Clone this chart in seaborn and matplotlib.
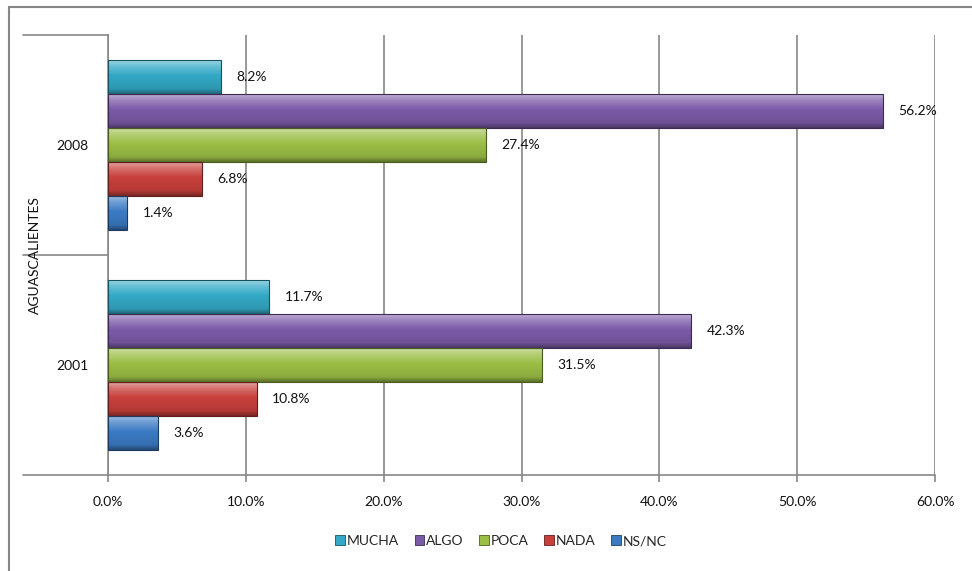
import numpy as np
import pandas as pd
import matplotlib
matplotlib.use("Agg")
import matplotlib.pyplot as plt
import matplotlib.colors as mcolors
from matplotlib.lines import Line2D
from matplotlib.patches import Patch
import seaborn as sns

# ---- data ----
years = ["2008", "2001"]
series = ["MUCHA", "ALGO", "POCA", "NADA", "NS/NC"]
values_2008 = [8.2, 56.2, 27.4, 6.8, 1.4]
values_2001 = [11.7, 42.3, 31.5, 10.8, 3.6]
xticks = [0, 10, 20, 30, 40, 50, 60]
group_label = "AGUASCALIENTES"
colors = ["#33A9C6", "#7B5AA8", "#9BBE45", "#C8403C", "#3B7BC4"]

rows = []
for yr, vals in zip(years, [values_2008, values_2001]):
    for s, v in zip(series, vals):
        rows.append({"year": yr, "serie": s, "value": v})
df = pd.DataFrame(rows)

sns.set_theme(style="white")
plt.rcParams["font.family"] = ["Lato", "DejaVu Sans"]

fig = plt.figure(figsize=(9.72, 5.71), dpi=100)
ax = fig.add_axes([108/972, 1-475/571, (935-108)/972, (475-35)/571])

sns.barplot(data=df, y="year", x="value", hue="serie", order=years,
            hue_order=series, palette=colors, orient="h", width=0.77,
            ax=ax, legend=False, saturation=1, edgecolor="none", linewidth=0)

ax.set_xlim(0, 60)
ax.set_ylim(1.5, -0.5)

# gradient / bevel overlay on bars
for cont, col in zip(ax.containers, colors):
    base = np.array(mcolors.to_rgb(col))
    light = base + (1 - base) * 0.5
    dark = base * 0.6
    cmap = mcolors.LinearSegmentedColormap.from_list(
        "g", [(0, light), (0.18, light*0.5+base*0.5), (0.45, base), (0.85, base*0.9), (1, dark)])
    grad = np.linspace(0, 1, 64).reshape(-1, 1)
    for p in cont.patches:
        x0, y0 = p.get_x(), p.get_y()
        w, h = p.get_width(), p.get_height()
        im = ax.imshow(grad, extent=(x0, x0 + w, y0 + h, y0), origin="upper",
                       cmap=cmap, aspect="auto", zorder=2, interpolation="bilinear")
        im.set_clip_path(p)
        ax.add_patch(plt.Rectangle((x0, y0), w, h, fill=False,
                                   edgecolor=tuple(dark*0.8), linewidth=0.8, zorder=3))
    ax.bar_label(cont, labels=[f"{v:.1f}%" for v in cont.datavalues],
                 padding=11, fontsize=10, color="#111111")

ax.set_xlim(0, 60)
ax.set_ylim(1.5, -0.5)

grid_col = "#878787"
ax.set_xticks(xticks)
ax.set_xticklabels([f"{t:.1f}%" for t in xticks], fontsize=10, color="#111111")
ax.xaxis.grid(True, color=grid_col, linewidth=1.2)
ax.set_axisbelow(True)
ax.tick_params(axis="x", length=5, width=1.2, color=grid_col, pad=10, bottom=True)
ax.tick_params(axis="y", length=0, pad=14, labelsize=10, labelcolor="#111111")
ax.set_xlabel("")
ax.set_ylabel("")
for s in ["top", "right"]:
    ax.spines[s].set_visible(False)
for s in ["left", "bottom"]:
    ax.spines[s].set_color(grid_col)
    ax.spines[s].set_linewidth(1.2)

# multi-level category separators
ext = (23 - 108) / 827
for yy in [0, 0.5, 1]:
    ax.plot([ext, 0], [yy, yy], transform=ax.transAxes, color=grid_col,
            linewidth=1.2, clip_on=False)
ax.text((35 - 108) / 827, 0.5, group_label, transform=ax.transAxes, rotation=90,
        ha="center", va="center", fontsize=10, color="#111111")

# legend
handles = [Patch(facecolor=c, edgecolor=tuple(np.array(mcolors.to_rgb(c))*0.5), linewidth=0.6)
           for c in colors]
fig.legend(handles, series, loc="center", bbox_to_anchor=(501/972, 1-541/571),
           ncol=5, frameon=False, fontsize=10, handlelength=0.7, handleheight=0.7,
           handletextpad=0.15, columnspacing=1.1)

# chart border (cropped)
fig.add_artist(Line2D([9/972, 1], [1-7/571, 1-7/571], color=grid_col, linewidth=1.5))
fig.add_artist(Line2D([9/972, 9/972], [0, 1-7/571], color=grid_col, linewidth=1.5))

fig.savefig("out.png", dpi=100)
